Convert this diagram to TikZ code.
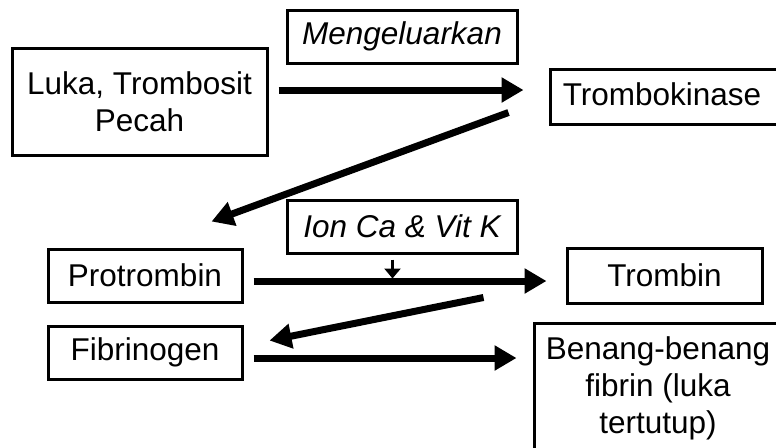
\documentclass[tikz,border=0pt]{standalone}
\usepackage{fontspec}
\setmainfont{Liberation Sans}
\usetikzlibrary{arrows.meta, calc}

\begin{document}
\begin{tikzpicture}[
x=0.5pt, y=-0.5pt,
box/.style = {draw, line width=1.5pt, inner sep=0pt, align=center, font=\fontsize{15.75}{18.5}\selectfont},
flow/.style = {line width=3.5pt, -{Triangle[length=11pt,width=12pt]}},
small flow/.style = {line width=1.5pt, -{Triangle[length=5pt,width=8pt]}},
]

\useasboundingbox (0,0) rectangle (776,447);
\clip (0,0) rectangle (776,447);

\node (luka) [box, minimum width=127.5pt, minimum height=53.5pt] at (139.5,101.5) {Luka, Trombosit\\Pecah};
\node (meng) [box, minimum width=115pt, minimum height=26.5pt] at (402,36.5) {\itshape Mengeluarkan};
\node (tkin) [box, minimum width=116pt, minimum height=27.5pt] at (666,96.5) {\raisebox{2pt}{Trombokinase}\hspace{4pt}};

\node (ion) [box, minimum width=115pt, minimum height=26.5pt] at (402,226.5) {\itshape Ion Ca \& Vit K};
\node (prot) [box, minimum width=97pt, minimum height=26.5pt] at (145,275.5) {Protrombin};
\node (tromb) [box, minimum width=97.5pt, minimum height=27.5pt] at (664.5,275.5) {Trombin};

\node (fib) [box, minimum width=97pt, minimum height=26.5pt] at (145,352.5) {Fibrinogen};
\node (benang) [box, minimum width=124pt, minimum height=65pt] at (658,388) {Benang-benang\\fibrin (luka\\tertutup)\hspace{3pt}};

\draw[flow] ($(luka.east)+(10,-11.5)$) -- ($(tkin.west)+(-25,-6.5)$);
\draw[flow] ($(tkin.south west)+(-40,-13)$) -- ($(prot.north east)+(-32,-26)$);
\draw[flow] ($(prot.east)+(10,5.5)$) -- ($(tromb.west)+(-19,5.5)$);
\draw[small flow] ($(ion.south)+(-9.5,5)$) -- ($(ion.south)+(-9.5,24)$);
\draw[flow] ($(tromb.south west)+(-82,-7)$) -- ($(fib.north east)+(26,16)$);
\draw[flow] ($(fib.east)+(10,5.5)$) -- ($(benang.west)+(-16,-30)$);

\end{tikzpicture}
\end{document}
